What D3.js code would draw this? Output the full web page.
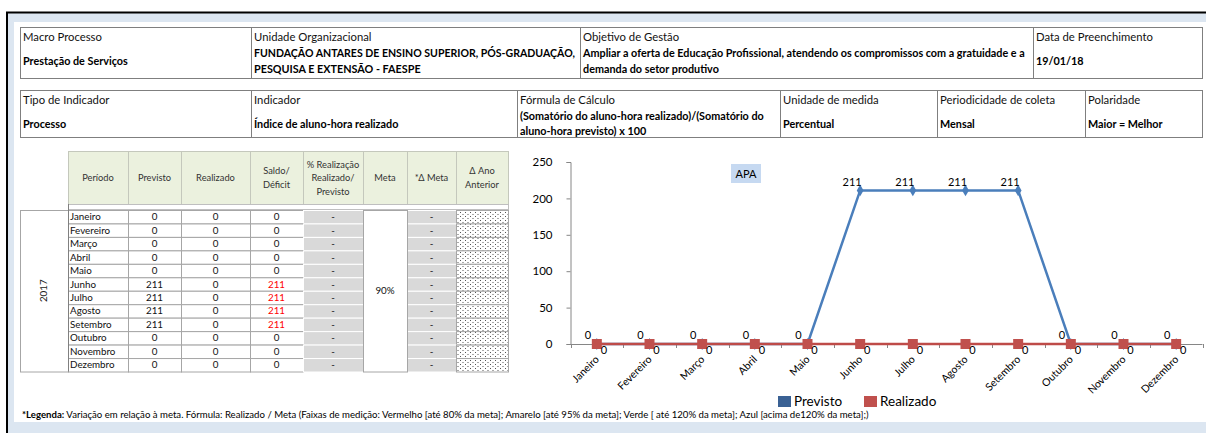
<!DOCTYPE html>
<html>
<head>
<meta charset="utf-8">
<script src="https://cdn.jsdelivr.net/npm/d3@7"></script>
<style>
  body { margin: 0; background: #fff; }
  svg { display: block; font-family: Lato, 'Open Sans', sans-serif; }
</style>
</head>
<body>
<svg id="canvas" width="1206" height="433"></svg>
<script>
// ---- data ----
let months = ['Janeiro', 'Fevereiro', 'Março', 'Abril', 'Maio', 'Junho', 'Julho', 'Agosto', 'Setembro', 'Outubro', 'Novembro', 'Dezembro']
let previsto = [0, 0, 0, 0, 0, 211, 211, 211, 211, 0, 0, 0]
let realizado = [0, 0, 0, 0, 0, 0, 0, 0, 0, 0, 0, 0]
let saldo = [0, 0, 0, 0, 0, 211, 211, 211, 211, 0, 0, 0]
let yTicks = [0, 50, 100, 150, 200, 250]
let year = '2017'
let meta = '90%'
let tableHeaders = ['Período', 'Previsto', 'Realizado', 'Saldo/|Déficit', '% Realização|Realizado/|Previsto', 'Meta', '*Δ Meta', 'Δ Ano|Anterior']

let infoLabels1 = ['Macro Processo', 'Unidade Organizacional', 'Objetivo de Gestão', 'Data de Preenchimento']
let infoValues1 = [['Prestação de Serviços'], ['FUNDAÇÃO ANTARES DE ENSINO SUPERIOR, PÓS-GRADUAÇÃO,', 'PESQUISA E EXTENSÃO - FAESPE'], ['Ampliar a oferta de Educação Profissional, atendendo os compromissos com a gratuidade e a', 'demanda do setor produtivo'], ['19/01/18']]
let infoLabels2 = ['Tipo de Indicador', 'Indicador', 'Fórmula  de Cálculo', 'Unidade de medida', 'Periodicidade de coleta', 'Polaridade']
let infoValues2 = [['Processo'], ['Índice de aluno-hora realizado'], ['(Somatório do aluno-hora realizado)/(Somatório do', 'aluno-hora previsto) x 100'], ['Percentual'], ['Mensal'], ['Maior = Melhor']]

let seriesNames = ['Previsto', 'Realizado']
let chartTitle = 'APA'
let footBold = '*Legenda:'
let footText = ' Variação em relação à meta. Fórmula: Realizado / Meta (Faixas de medição: Vermelho [até 80% da meta]; Amarelo [até 95% da meta]; Verde [ até 120% da meta]; Azul [acima de120% da meta];)'

let canvas = d3.select('#canvas')

// ---- frame ----
canvas.append('rect').attr('x', 7).attr('y', 12).attr('width', 1199).attr('height', 421).attr('fill', '#dce6f1')
canvas.append('rect').attr('x', 14).attr('y', 22).attr('width', 1192).attr('height', 400).attr('fill', '#fff')
canvas.append('line').attr('x1', 6).attr('x2', 1206).attr('y1', 12.5).attr('y2', 12.5).attr('stroke', '#000').attr('stroke-width', 2)
canvas.append('line').attr('x1', 7).attr('x2', 7).attr('y1', 12).attr('y2', 433).attr('stroke', '#000').attr('stroke-width', 2)

// ---- info tables ----
let drawInfo = (cols, top, bottom, labels, values, labelY, valueY1, valueY2) => {
    let g = canvas.append('g')
    labels.forEach((lab, i) => {
        let x0 = cols[i], x1 = cols[i + 1]
        g.append('rect').attr('x', x0 + 0.5).attr('y', top + 0.5).attr('width', x1 - x0).attr('height', bottom - top)
            .attr('fill', 'none').attr('stroke', '#7f7f7f')
        g.append('text').attr('x', x0 + 3).attr('y', labelY).attr('font-size', 11.3).attr('fill', '#111').text(lab)
        let v = values[i]
        v.forEach((line, j) => {
            g.append('text').attr('x', x0 + 3)
                .attr('y', v.length === 1 ? valueY1 : valueY2[j])
                .attr('font-size', 10.8).attr('font-weight', 'bold').attr('fill', '#000')
                .attr('class', 'fit').attr('data-w', x1 - x0 - 8)
                .text(line)
        })
    })
}
drawInfo([20, 251, 580, 1033, 1202], 27, 78, infoLabels1, infoValues1, 41, 65, [57, 73])
drawInfo([20, 251, 517, 780, 937, 1085, 1202], 90, 137, infoLabels2, infoValues2, 104, 128, [120, 135])

// ---- data table ----
let tcols = [68, 128, 181, 250, 303, 363, 407, 456, 508]
let hTop = 151, hBot = 204, bTop = 210, bBot = 371.5
let rowH = (bBot - bTop) / months.length

let defs = canvas.append('defs')
let pat = defs.append('pattern').attr('id', 'dots').attr('width', 5).attr('height', 4).attr('patternUnits', 'userSpaceOnUse')
pat.append('rect').attr('width', 5).attr('height', 4).attr('fill', '#fff')
pat.append('rect').attr('x', 0).attr('y', 0).attr('width', 1).attr('height', 1).attr('fill', '#555')
pat.append('rect').attr('x', 2.5).attr('y', 2).attr('width', 1).attr('height', 1).attr('fill', '#555')

let tbl = canvas.append('g').attr('font-size', 9.8)

tableHeaders.forEach((h, i) => {
    let x0 = tcols[i], x1 = tcols[i + 1]
    tbl.append('rect').attr('x', x0 + 0.5).attr('y', hTop + 0.5).attr('width', x1 - x0).attr('height', hBot - hTop)
        .attr('fill', '#ebf1de').attr('stroke', '#c4c8bc')
    let lines = h.split('|')
    lines.forEach((ln, j) => {
        tbl.append('text').attr('x', (x0 + x1) / 2)
            .attr('y', (hTop + hBot) / 2 + 3.5 + (j - (lines.length - 1) / 2) * 13.5)
            .attr('text-anchor', 'middle').attr('fill', '#333').attr('font-size', 9.3).text(ln)
    })
})
// spacer row
tbl.append('rect').attr('x', tcols[0] + 0.5).attr('y', hBot + 0.5).attr('width', tcols[tcols.length - 1] - tcols[0]).attr('height', bTop - hBot - 1)
    .attr('fill', '#fff').attr('stroke', '#bfbfbf')

// year cell
tbl.append('rect').attr('x', 20.5).attr('y', bTop + 0.5).attr('width', tcols[0] - 20).attr('height', bBot - bTop)
    .attr('fill', '#fff').attr('stroke', '#a6a6a6')
tbl.append('text').attr('transform', `translate(47,${(bTop + bBot) / 2}) rotate(-90)`)
    .attr('text-anchor', 'middle').attr('fill', '#222').text(year)

months.forEach((m, r) => {
    let y0 = bTop + r * rowH
    let cells = [m, previsto[r], realizado[r], saldo[r], '-', null, '-', '']
    cells.forEach((c, i) => {
        if (i === 5) return
        let x0 = tcols[i], x1 = tcols[i + 1]
        let fill = (i === 4 || i === 6) ? '#d9d9d9' : (i === 7 ? 'url(#dots)' : '#fff')
        let stroke = (i === 4 || i === 6) ? '#fff' : '#a6a6a6'
        tbl.append('rect').attr('x', x0 + 0.5).attr('y', y0 + 0.5).attr('width', x1 - x0).attr('height', rowH)
            .attr('fill', fill).attr('stroke', stroke)
        tbl.append('text')
            .attr('x', i === 0 ? x0 + 2 : (x0 + x1) / 2)
            .attr('y', y0 + rowH / 2 + 3.5)
            .attr('text-anchor', i === 0 ? 'start' : 'middle')
            .attr('fill', (i === 3 && c > 0) ? '#ff0000' : '#111')
            .text(c)
    })
})
// meta merged cell
tbl.append('rect').attr('x', tcols[5] + 0.5).attr('y', bTop + 0.5).attr('width', tcols[6] - tcols[5]).attr('height', bBot - bTop)
    .attr('fill', '#fff').attr('stroke', '#a6a6a6')
tbl.append('text').attr('x', (tcols[5] + tcols[6]) / 2).attr('y', (bTop + bBot) / 2 + 3.5)
    .attr('text-anchor', 'middle').attr('fill', '#111').text(meta)
// left border of table body
tbl.append('line').attr('x1', tcols[0] + 0.5).attr('x2', tcols[0] + 0.5).attr('y1', hBot).attr('y2', bBot)
    .attr('stroke', '#808080')

// ---- chart ----
let x = d3.scaleBand().domain(months).range([570.5, 1202.5]).padding(0)
let y = d3.scaleLinear().domain([0, 250]).range([344, 162])
let cx = (m) => x(m) + x.bandwidth() / 2

let chart = canvas.append('g')

let yAxis = chart.append('g').attr('transform', 'translate(570.5,0)')
    .call(d3.axisLeft(y).tickValues(yTicks).tickSize(4).tickPadding(14))
yAxis.select('.domain').attr('stroke', '#868686')
yAxis.selectAll('.tick line').attr('stroke', '#868686')
yAxis.selectAll('.tick text').attr('font-size', 11.5).attr('fill', '#000').attr('font-family', 'Lato, sans-serif')

// x axis baseline + boundary ticks
chart.append('line').attr('x1', x.range()[0]).attr('x2', x.range()[1]).attr('y1', y(0) + 0.5).attr('y2', y(0) + 0.5)
    .attr('stroke', '#868686')
d3.range(months.length + 1).forEach(i => {
    let xx = Math.round(x.range()[0] + i * x.bandwidth()) + 0.5
    chart.append('line').attr('x1', xx).attr('x2', xx).attr('y1', y(0)).attr('y2', y(0) + 4).attr('stroke', '#868686')
})
chart.selectAll('.xlab').data(months).enter().append('text')
    .attr('class', 'xlab')
    .attr('transform', d => `translate(${cx(d) + 3},${y(0) + 16}) rotate(-45)`)
    .attr('text-anchor', 'end').attr('font-size', 10.5).attr('fill', '#000')
    .text(d => d)

let line = d3.line().x((d, i) => cx(months[i])).y(d => y(d))

// previsto
chart.append('path').datum(previsto).attr('d', line).attr('fill', 'none').attr('stroke', '#4a7ebb').attr('stroke-width', 2.5)
chart.selectAll('.pmark').data(previsto).enter().append('path')
    .attr('class', 'pmark')
    .attr('d', d3.symbol().type(d3.symbolDiamond).size(40))
    .attr('transform', (d, i) => `translate(${cx(months[i])},${y(d)})`)
    .attr('fill', '#4a7ebb')

// realizado
chart.append('path').datum(realizado).attr('d', line).attr('fill', 'none').attr('stroke', '#be4b48').attr('stroke-width', 2.5)
chart.selectAll('.rmark').data(realizado).enter().append('rect')
    .attr('class', 'rmark')
    .attr('x', (d, i) => cx(months[i]) - 5).attr('y', d => y(d) - 5)
    .attr('width', 10).attr('height', 10).attr('fill', '#c0504d')

// data labels
chart.selectAll('.plab').data(previsto).enter().append('text')
    .attr('class', 'plab')
    .attr('x', (d, i) => cx(months[i]) - (d > 0 ? 8 : 9))
    .attr('y', d => y(d) - (d > 0 ? 4 : 5))
    .attr('text-anchor', 'middle').attr('font-size', 11).attr('fill', '#000')
    .text(d => d)
chart.selectAll('.rlab').data(realizado).enter().append('text')
    .attr('class', 'rlab')
    .attr('x', (d, i) => cx(months[i]) + 7)
    .attr('y', d => y(d) + 10)
    .attr('text-anchor', 'middle').attr('font-size', 11).attr('fill', '#000')
    .text(d => d)

// title box
chart.append('rect').attr('x', 731).attr('y', 164).attr('width', 30).attr('height', 19).attr('fill', '#c6d9f1')
chart.append('text').attr('x', 746).attr('y', 178).attr('text-anchor', 'middle').attr('font-size', 11).attr('fill', '#000').text(chartTitle)

// legend
let legColors = ['#3a6194', '#c0504d']
let legX = [778, 864]
seriesNames.forEach((s, i) => {
    chart.append('rect').attr('x', legX[i]).attr('y', 396).attr('width', 13).attr('height', 11).attr('fill', legColors[i])
    chart.append('text').attr('x', legX[i] + 16).attr('y', 406).attr('font-size', 13.5).attr('fill', '#000').text(s)
})

// footnote
let foot = canvas.append('text').attr('x', 22).attr('y', 418).attr('font-size', 9.6).attr('fill', '#000')
foot.append('tspan').attr('font-weight', 'bold').text(footBold)
foot.append('tspan').text(footText)

// shrink long bold values to their cells
canvas.selectAll('text.fit').each(function () {
    let w = +this.getAttribute('data-w')
    if (this.getComputedTextLength() > w) {
        d3.select(this).attr('textLength', w).attr('lengthAdjust', 'spacingAndGlyphs')
    }
})
</script>
</body>
</html>
